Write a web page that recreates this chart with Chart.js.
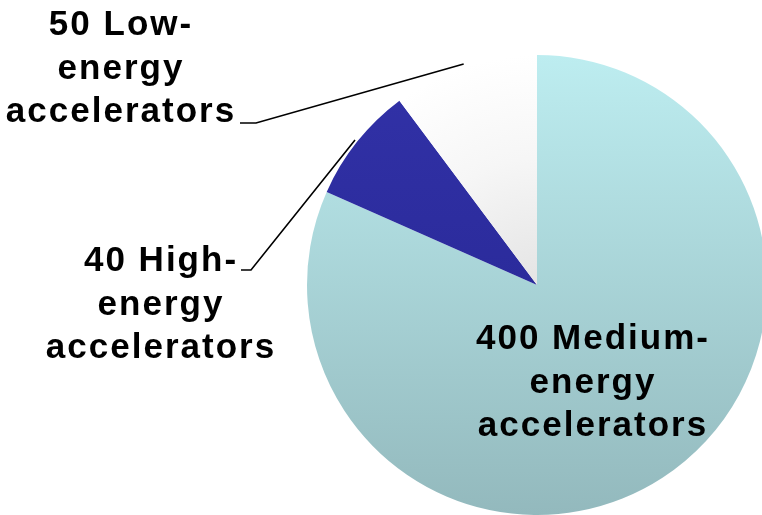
<!DOCTYPE html>
<html>
<head>
<meta charset="utf-8">
<script src="https://cdn.jsdelivr.net/npm/chart.js@4.4.1/dist/chart.umd.min.js"></script>
<style>
html,body{margin:0;padding:0;background:#fff;overflow:hidden;}
#wrap{position:relative;width:762px;height:515px;overflow:hidden;}
#box{position:absolute;left:0;top:0;width:780px;height:515px;}
</style>
</head>
<body>
<div id="wrap"><div id="box"><canvas id="c"></canvas></div></div>
<script>
// ---- data ----
const levels = ['Medium', 'High', 'Low'];
const counts = [400, 40, 50];
const categories = levels.map(l => l + '-energy accelerators');

// ---- label layout (style only) ----
const labelLayout = [
  {cx: 592, base: 349, leader: null},
  {cx: 160, base: 271, leader: {x0: 241, y0: 270, x1: 251}},
  {cx: 120, base: 35,  leader: {x0: 240, y0: 123, x1: 256}}
];

const sliceColors = [
  ['#bdedf0', '#93b9bd'],
  ['#3232a8', '#24248f'],
  ['#ffffff', '#e4e4e4']
];

function fillFor(ctx, i) {
  const chart = ctx.chart;
  const area = chart.chartArea;
  if (!area) return sliceColors[i][0];
  let g;
  if (i === 2) {
    const cx = (area.left + area.right) / 2, cy = (area.top + area.bottom) / 2;
    g = chart.ctx.createRadialGradient(cx, cy, 0, cx, cy, (area.bottom - area.top) / 2);
    g.addColorStop(0, sliceColors[i][1]);
    g.addColorStop(0.55, '#f6f6f6');
    g.addColorStop(1, sliceColors[i][0]);
  } else {
    g = chart.ctx.createLinearGradient(0, area.top, 0, area.bottom);
    g.addColorStop(0, sliceColors[i][0]);
    g.addColorStop(1, sliceColors[i][1]);
  }
  return g;
}

const labelPlugin = {
  id: 'labelPlugin',
  afterDatasetsDraw(chart) {
    const c = chart.ctx;
    const meta = chart.getDatasetMeta(0);
    c.save();
    c.font = 'bold 35px "Liberation Sans", Arial, sans-serif';
    c.fillStyle = '#000';
    c.textAlign = 'center';
    c.textBaseline = 'alphabetic';
    try { c.letterSpacing = '2px'; } catch (e) {}
    const lh = 43.5;
    meta.data.forEach((arc, i) => {
      const L = labelLayout[i];
      const lines = [counts[i] + ' ' + levels[i] + '-', 'energy', 'accelerators'];
      lines.forEach((t, k) => c.fillText(t, L.cx + 1, L.base + k * lh));
      if (L.leader) {
        const p = arc.getProps(['x', 'y', 'startAngle', 'endAngle', 'outerRadius'], true);
        const mid = (p.startAngle + p.endAngle) / 2;
        const r = p.outerRadius * 1.012;
        const ex = p.x + Math.cos(mid) * r;
        const ey = p.y + Math.sin(mid) * r;
        c.beginPath();
        c.lineWidth = 1.6;
        c.strokeStyle = '#000';
        c.moveTo(L.leader.x0, L.leader.y0);
        c.lineTo(L.leader.x1, L.leader.y0);
        c.lineTo(ex, ey);
        c.stroke();
      }
    });
    c.restore();
  }
};

new Chart(document.getElementById('c'), {
  type: 'pie',
  data: {
    labels: categories,
    datasets: [{
      data: counts,
      backgroundColor: ctx => fillFor(ctx, ctx.dataIndex),
      borderWidth: 0
    }]
  },
  options: {
    responsive: true,
    maintainAspectRatio: false,
    animation: false,
    layout: {padding: {left: 307, right: 13, top: 55, bottom: 0}},
    plugins: {legend: {display: false}, tooltip: {enabled: false}}
  },
  plugins: [labelPlugin]
});
</script>
</body>
</html>
